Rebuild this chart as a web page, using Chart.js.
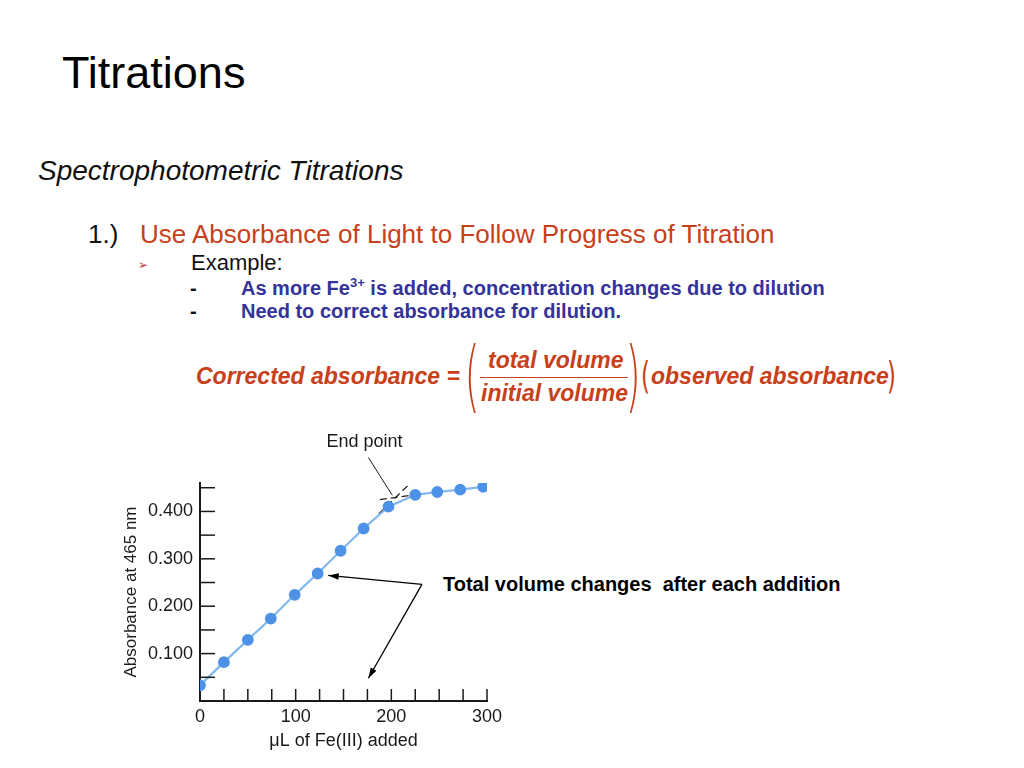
<!DOCTYPE html>
<html>
<head>
<meta charset="utf-8">
<script src="https://cdn.jsdelivr.net/npm/chart.js@4.4.1/dist/chart.umd.min.js"></script>
<style>
  body { margin:0; width:1024px; height:768px; background:#fff; font-family:"Liberation Sans", Arial, sans-serif; overflow:hidden; }
  .t { position:absolute; white-space:nowrap; line-height:1; }
  #title { left:62px; top:50px; font-size:45px; color:#000; }
  #sub { left:38px; top:157px; font-size:28px; font-style:italic; color:#111; }
  #num { left:88px; top:221px; font-size:26px; color:#111; }
  #use { left:140px; top:221px; font-size:26px; color:#c8401a; }
  #bul { left:138px; top:259px; font-size:12px; color:#c0392b; }
  #ex { left:191px; top:252px; font-size:22px; color:#111; }
  .dash { left:190px; font-size:20px; font-weight:bold; color:#111; }
  .blue { left:241px; font-size:20px; font-weight:bold; color:#333399; }
  .f { font-weight:bold; font-style:italic; color:#c8401a; font-size:23px; }
  .par { position:absolute; line-height:1; font-family:"DejaVu Sans", sans-serif; font-weight:200; color:#c8401a; }
  #note { left:443px; top:574px; font-size:20px; font-weight:bold; color:#000; }
  #wrap { position:absolute; left:110px; top:420px; width:410px; height:340px; }
</style>
</head>
<body>
<div class="t" id="title">Titrations</div>
<div class="t" id="sub">Spectrophotometric Titrations</div>
<div class="t" id="num">1.)</div>
<div class="t" id="use">Use Absorbance of Light to Follow Progress of Titration</div>
<div class="t" id="bul">&#10146;</div>
<div class="t" id="ex">Example:</div>
<div class="t dash" style="top:278px">-</div>
<div class="t dash" style="top:301px">-</div>
<div class="t blue" style="top:278px">As more Fe<sup style="font-size:13px; line-height:0">3+</sup> is added, concentration changes due to dilution</div>
<div class="t blue" style="top:301px">Need to correct absorbance for dilution.</div>

<div class="t f" style="left:196px; top:365px">Corrected absorbance =</div>
<div class="par" style="left:457px; top:337px; font-size:78px; transform:scaleX(0.5)">(</div>
<div class="t f" style="left:488px; top:349px">total volume</div>
<div style="position:absolute; left:480px; top:377px; width:148px; height:1px; background:#c8401a"></div>
<div class="t f" style="left:481px; top:382px">initial volume</div>
<div class="par" style="left:618px; top:337px; font-size:78px; transform:scaleX(0.5)">)</div>
<div class="par" style="left:638px; top:356px; font-size:38px; font-weight:normal; transform:scaleX(0.6)">(</div>
<div class="t f" style="left:651px; top:365px">observed absorbance</div>
<div class="par" style="left:884px; top:356px; font-size:38px; font-weight:normal; transform:scaleX(0.6)">)</div>

<div class="t" id="note">Total volume changes&nbsp; after each addition</div>

<div id="wrap"><canvas id="mycanvas"></canvas></div>

<script>
// titration data
var volume = [0, 25, 50, 74, 99, 123, 147, 171, 197, 225, 248, 272, 296];
var absorbance = [0.033, 0.082, 0.129, 0.174, 0.224, 0.269, 0.317, 0.364, 0.410, 0.435, 0.441, 0.446, 0.452];

// extrapolated lines that meet at the end point
var lowerFit = [{x: 187, y: 0.395}, {x: 220, y: 0.46}];
var upperFit = [{x: 188, y: 0.425}, {x: 220, y: 0.434}];

var yLabels = [0.1, 0.2, 0.3, 0.4];

// annotation anchors in data units
var endLabel = {x: 172, y: 0.547, text: 'End point'};
var leader = [[176, 0.514], [201, 0.434]];
var arrowFrom = [232, 0.246];
var arrowTips = [[134, 0.265], [176, 0.048]];

var points = [];
for (var i in volume) {
  points.push({x: volume[i], y: absorbance[i]});
}

var ink = '#1a1a1a';

var extras = {
  id: 'extras',
  afterDraw: function(chart) {
    var ctx = chart.ctx;
    var xs = chart.scales.x, ys = chart.scales.y;
    var a = chart.chartArea;
    ctx.save();
    ctx.strokeStyle = ink;
    ctx.lineWidth = 1.5;
    // inward tick marks
    xs.ticks.forEach(function(t) {
      if (t.value === 0) return;
      var px = xs.getPixelForValue(t.value);
      ctx.beginPath(); ctx.moveTo(px, a.bottom); ctx.lineTo(px, a.bottom - 12); ctx.stroke();
    });
    ys.ticks.forEach(function(t) {
      if (t.value === 0) return;
      var py = ys.getPixelForValue(t.value);
      ctx.beginPath(); ctx.moveTo(a.left, py); ctx.lineTo(a.left + 15, py); ctx.stroke();
    });
    // end point label and leader
    ctx.fillStyle = ink;
    ctx.font = '18px "Liberation Sans", Arial, sans-serif';
    ctx.textAlign = 'center';
    ctx.textBaseline = 'middle';
    ctx.fillText(endLabel.text, xs.getPixelForValue(endLabel.x), ys.getPixelForValue(endLabel.y));
    ctx.lineWidth = 1;
    ctx.beginPath();
    ctx.moveTo(xs.getPixelForValue(leader[0][0]), ys.getPixelForValue(leader[0][1]));
    ctx.lineTo(xs.getPixelForValue(leader[1][0]), ys.getPixelForValue(leader[1][1]));
    ctx.stroke();
    // arrows
    ctx.strokeStyle = '#000';
    ctx.fillStyle = '#000';
    ctx.lineWidth = 1.3;
    var fx = xs.getPixelForValue(arrowFrom[0]), fy = ys.getPixelForValue(arrowFrom[1]);
    arrowTips.forEach(function(tp) {
      var tx = xs.getPixelForValue(tp[0]), ty = ys.getPixelForValue(tp[1]);
      var ang = Math.atan2(ty - fy, tx - fx);
      ctx.beginPath(); ctx.moveTo(fx, fy); ctx.lineTo(tx, ty); ctx.stroke();
      ctx.beginPath();
      ctx.moveTo(tx, ty);
      ctx.lineTo(tx - 11 * Math.cos(ang - 0.3), ty - 11 * Math.sin(ang - 0.3));
      ctx.lineTo(tx - 11 * Math.cos(ang + 0.3), ty - 11 * Math.sin(ang + 0.3));
      ctx.closePath(); ctx.fill();
    });
    ctx.restore();
  }
};

var ctx = document.getElementById('mycanvas');

var lineGraph = new Chart(ctx, {
  type: 'line',
  data: {
    datasets: [
      {
        label: 'Absorbance',
        data: points,
        borderColor: '#80b8ee',
        borderWidth: 2.2,
        pointBackgroundColor: '#4d92e6',
        pointBorderColor: '#4d92e6',
        pointRadius: 4.8,
        tension: 0
      },
      {
        data: lowerFit,
        borderColor: '#222',
        borderWidth: 1.3,
        borderDash: [7, 4],
        pointRadius: 0,
        clip: false
      },
      {
        data: upperFit,
        borderColor: '#222',
        borderWidth: 1.3,
        borderDash: [7, 4],
        pointRadius: 0,
        clip: false
      }
    ]
  },
  options: {
    responsive: true,
    maintainAspectRatio: false,
    animation: false,
    layout: { padding: { top: 63, right: 33, left: 0, bottom: 0 } },
    plugins: { legend: { display: false }, tooltip: { enabled: false } },
    scales: {
      x: {
        type: 'linear',
        min: 0,
        max: 300,
        afterFit: function(s) { s.height = 59; },
        border: { display: true, color: ink, width: 2 },
        grid: { display: false, drawTicks: false },
        ticks: {
          stepSize: 25,
          autoSkip: false,
          maxRotation: 0,
          padding: 5,
          color: ink,
          font: { size: 18, family: '"Liberation Sans", Arial, sans-serif' },
          callback: function(v) { return v % 100 === 0 ? String(v) : ''; }
        },
        title: {
          display: true,
          text: '\u03bcL of Fe(III) added',
          color: ink,
          font: { size: 18, family: '"Liberation Sans", Arial, sans-serif' },
          padding: { top: 0, bottom: 8 }
        }
      },
      y: {
        type: 'linear',
        min: 0,
        max: 0.46,
        afterFit: function(s) { s.width = 90; },
        border: { display: true, color: ink, width: 2 },
        grid: { display: false, drawTicks: false },
        ticks: {
          stepSize: 0.05,
          includeBounds: false,
          autoSkip: false,
          padding: 7,
          color: ink,
          font: { size: 18, family: '"Liberation Sans", Arial, sans-serif' },
          callback: function(v) {
            for (var k in yLabels) {
              if (Math.abs(v - yLabels[k]) < 1e-6) return v.toFixed(3);
            }
            return '';
          }
        },
        title: {
          display: true,
          text: 'Absorbance at 465 nm',
          color: ink,
          font: { size: 17, family: '"Liberation Sans", Arial, sans-serif' },
          padding: { top: 11, bottom: 0 }
        }
      }
    }
  },
  plugins: [extras]
});
</script>
</body>
</html>
